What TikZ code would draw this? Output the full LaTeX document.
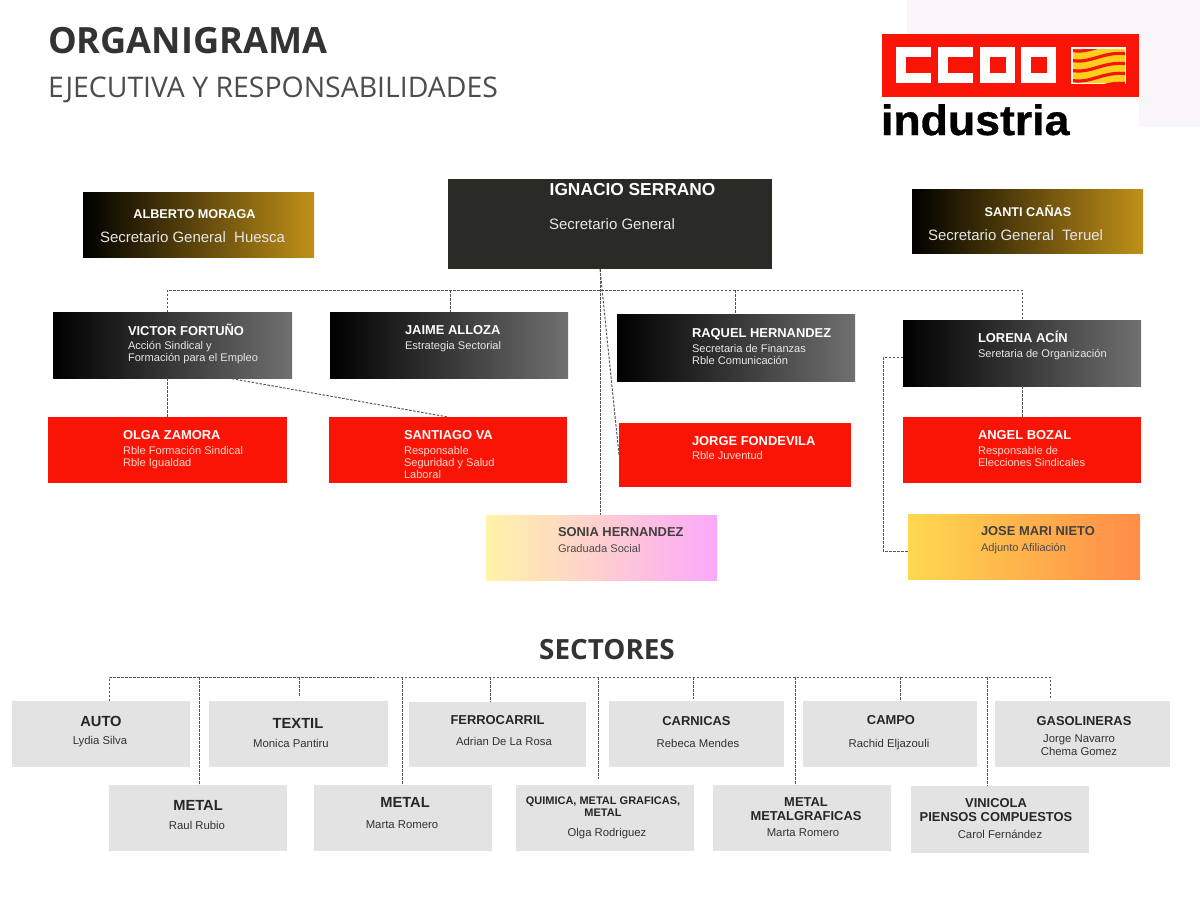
\documentclass[tikz,border=0pt]{standalone}
\usepackage{fontspec}
\setmainfont{Liberation Sans}
\newfontfamily\titlefont{Open Sans}
\newfontfamily\logofont[BoldFeatures={FakeStretch=1.05,FakeBold=0.8}]{Liberation Sans}
\definecolor{ccoored}{HTML}{FA1405}
\definecolor{darkbox}{HTML}{2B2B26}
\definecolor{goldend}{HTML}{C09018}
\definecolor{greyend}{HTML}{707070}
\definecolor{sectorbox}{HTML}{E3E3E3}
\definecolor{linegrey}{HTML}{555555}
\definecolor{softwhite}{HTML}{E6E6E6}
\definecolor{softred}{HTML}{FFD5CC}
\definecolor{paleback}{HTML}{FAF6F9}
\definecolor{flagyellow}{HTML}{FFCF1E}
\definecolor{soniastart}{HTML}{FFF3A8}
\definecolor{soniaend}{HTML}{FCA8FA}
\definecolor{josestart}{HTML}{FFD84F}
\definecolor{joseend}{HTML}{FF8C48}
\tikzset{
    box/.style 2 args={minimum width=#1*0.6pt, minimum height=#2*0.6pt, inner sep=0pt, outer sep=0pt},
    goldbox/.style={left color=black, right color=goldend},
    blackbox/.style={left color=black, right color=greyend},
    redbox/.style={fill=ccoored},
    greybox/.style={fill=sectorbox},
    link/.style={linegrey, line width=0.6pt, dash pattern=on 1.5pt off 0.9pt},
    txt/.style={inner sep=0pt, outer sep=0pt},
    bignm/.style={txt, anchor=base, white, font=\bfseries\fontsize{7.6}{9}\selectfont},
    bigsub/.style={txt, anchor=base west, softwhite, font=\fontsize{9}{10}\selectfont},
    nm/.style={txt, anchor=base west, white, font=\bfseries\fontsize{7.75}{9}\selectfont},
    sub/.style={txt, anchor=north west, align=left, softwhite, font=\fontsize{6.65}{7.3}\selectfont},
    secnm/.style={txt, anchor=base, align=center, black!85, font=\bfseries\fontsize{7.75}{8.4}\selectfont},
    secsub/.style={txt, anchor=base, align=center, black!80, font=\fontsize{6.8}{7.8}\selectfont}
}

\begin{document}
\begin{tikzpicture}[x=0.6pt, y=-0.6pt]
    \useasboundingbox (0,0) rectangle (1200,900);

    % header
    \fill[paleback] (907,0) rectangle (1200,127);
    \fill[white] (882,97) rectangle (1139,137);
    \node[txt, anchor=base west, black!80, font=\titlefont\bfseries\fontsize{21.7}{24}\selectfont] (title) at (48,53) {ORGANIGRAMA};
    \node[txt, anchor=base west, black!70, font=\titlefont\fontsize{17.05}{20}\selectfont] (subtitle) at (48,97) {EJECUTIVA Y RESPONSABILIDADES};

    % logo
    \fill[ccoored] (882,34) rectangle (1139,97);
    \foreach \x in {896,938} {
        \fill[white] (\x,47) rectangle ++(35,36);
        \fill[ccoored] (\x+10,57) rectangle ++(25,16);
    }
    \foreach \x in {980,1021} {
        \fill[white] (\x,47) rectangle ++(35,36);
        \fill[ccoored] (\x+10,57) rectangle ++(16,16);
    }
    \fill[white] (1071,47) rectangle (1126,84);
    \begin{scope}
        \clip (1073,49) rectangle (1125,83);
        \fill[flagyellow] (1073,49) rectangle (1125,83);
        \foreach \dy in {50,60,70,80,90}
            \draw[ccoored, line width=1.9pt] (1070,\dy) .. controls (1090,\dy+5) and (1104,\dy-10) .. (1128,\dy-6);
    \end{scope}
    \node[txt, anchor=base west, black, font=\logofont\bfseries\fontsize{25.5}{30}\selectfont] (industria) at (881,135) {industria};

    % executive boxes
    \node[box={231}{65}, goldbox] (alberto) at (198.5,224.5) {};
    \node[box={324}{90}, fill=darkbox] (ignacio) at (610,224) {};
    \node[box={231}{64}, goldbox] (santi) at (1027.5,221) {};
    \node[box={239}{66}, blackbox] (victor) at (172.5,345) {};
    \node[box={238}{66}, blackbox] (jaime) at (449,345) {};
    \node[box={238}{67}, blackbox] (raquel) at (736,347.5) {};
    \node[box={238}{66}, blackbox] (lorena) at (1022,353) {};
    \node[box={239}{66}, redbox] (olga) at (167.5,450) {};
    \node[box={238}{66}, redbox] (santiago) at (448,450) {};
    \node[box={232}{64}, redbox] (jorge) at (735,455) {};
    \node[box={238}{66}, redbox] (angel) at (1022,450) {};
    \node[box={231}{65}, left color=soniastart, right color=soniaend] (sonia) at (601.5,547.5) {};
    \node[box={232}{65}, left color=josestart, right color=joseend] (jose) at (1024,546.5) {};

    % executive texts
    \node[bignm] (albertonm) at (194.5,218) {ALBERTO MORAGA};
    \node[bigsub] (albertosub) at (100,242) {Secretario General\ \ Huesca};
    \node[bignm, font=\bfseries\fontsize{10.4}{12}\selectfont] (ignacionm) at (632.5,195) {IGNACIO SERRANO};
    \node[bigsub] (ignaciosub) at (549,229) {Secretario General};
    \node[bignm] (santinm) at (1028,216) {SANTI CAÑAS};
    \node[bigsub] (santisub) at (928,240) {Secretario General\ \ Teruel};

    \node[nm] (victornm) at (128,335) {VICTOR FORTUÑO};
    \node[sub] (victorsub) at (128,341.5) {Acción Sindical y\\Formación para el Empleo};
    \node[nm] (jaimenm) at (405,334) {JAIME ALLOZA};
    \node[sub] (jaimesub) at (405,341.5) {Estrategia Sectorial};
    \node[nm] (raquelnm) at (692,337) {RAQUEL HERNANDEZ};
    \node[sub] (raquelsub) at (692,344) {Secretaria de Finanzas\\Rble Comunicación};
    \node[nm] (lorenanm) at (978,342) {LORENA ACÍN};
    \node[sub] (lorenasub) at (978,349) {Seretaria de Organización};

    \node[nm] (olganm) at (123,439) {OLGA ZAMORA};
    \node[sub, softred] (olgasub) at (123,446) {Rble Formación Sindical\\Rble Igualdad};
    \node[nm] (santiagonm) at (404,439) {SANTIAGO VA};
    \node[sub, softred] (santiagosub) at (404,446) {Responsable\\Seguridad y Salud\\Laboral};
    \node[nm] (jorgenm) at (692,445) {JORGE FONDEVILA};
    \node[sub, softred] (jorgesub) at (692,451.5) {Rble Juventud};
    \node[nm] (angelnm) at (978,439) {ANGEL BOZAL};
    \node[sub, softred] (angelsub) at (978,446) {Responsable de\\Elecciones Sindicales};
    \node[nm, black!75] (sonianm) at (558,536) {SONIA HERNANDEZ};
    \node[sub, black!70] (soniasub) at (558,544) {Graduada Social};
    \node[nm, black!75] (josenm) at (981,535) {JOSE MARI NIETO};
    \node[sub, black!70] (josesub) at (981,543) {Adjunto Afiliación};

    % executive links
    \coordinate (busv) at (167,290);
    \coordinate (busj) at (450,290);
    \coordinate (busi) at (600,290);
    \coordinate (busr) at (735,290);
    \coordinate (busl) at (1022,290);
    \draw[link] (victor.north -| busv) -- (busv) -- (busl) -- (lorena.north -| busl);
    \draw[link] (busj) -- (jaime.north -| busj);
    \draw[link] (busr) -- (raquel.north -| busr);
    \draw[link] (ignacio.south -| busi) -- (sonia.north -| busi);
    \draw[link] (ignacio.south -| busi) -- (jorge.west);
    \coordinate (victorout) at (228,378);
    \draw[link] (victorout) -- (santiago.north);
    \draw[link] (victor.south -| olga.north) -- (olga.north);
    \draw[link] (lorena.south) -- (angel.north -| lorena.south);
    \coordinate (elbow) at (883,357);
    \coordinate (josein) at (908,551);
    \draw[link] (lorena.west |- elbow) -- (elbow) -- (elbow |- josein) -- (josein);

    % sectors
    \node[txt, anchor=base, black!80, font=\titlefont\bfseries\fontsize{16.7}{20}\selectfont] (sectores) at (607,659) {SECTORES};

    \node[box={178}{66}, greybox] (auto) at (101,734) {};
    \node[box={179}{66}, greybox] (textil) at (298.5,734) {};
    \node[box={177}{65}, greybox] (ferrocarril) at (497.5,734.5) {};
    \node[box={175}{66}, greybox] (carnicas) at (696.5,734) {};
    \node[box={174}{66}, greybox] (campo) at (890,734) {};
    \node[box={175}{66}, greybox] (gasolineras) at (1082.5,734) {};
    \node[box={178}{66}, greybox] (metala) at (198,818) {};
    \node[box={178}{66}, greybox] (metalb) at (403,818) {};
    \node[box={178}{66}, greybox] (quimica) at (605,818) {};
    \node[box={178}{66}, greybox] (metalc) at (802,818) {};
    \node[box={178}{67}, greybox] (vinicola) at (1000,819.5) {};

    \node[secnm, font=\bfseries\fontsize{8.8}{10}\selectfont] (autonm) at (101,726) {AUTO};
    \node[secsub] (autosub) at (100,744) {Lydia Silva};
    \node[secnm, font=\bfseries\fontsize{8.8}{10}\selectfont] (textilnm) at (298,728) {TEXTIL};
    \node[secsub] (textilsub) at (291,747) {Monica Pantiru};
    \node[secnm] (ferrocarrilnm) at (497.5,724) {FERROCARRIL};
    \node[secsub] (ferrocarrilsub) at (504,745) {Adrian De La Rosa};
    \node[secnm] (carnicasnm) at (696.5,725) {CARNICAS};
    \node[secsub] (carnicassub) at (698,747) {Rebeca Mendes};
    \node[secnm] (camponm) at (891,724) {CAMPO};
    \node[secsub] (camposub) at (889,747) {Rachid Eljazouli};
    \node[secnm] (gasolinerasnm) at (1084,725) {GASOLINERAS};
    \node[secsub, anchor=north] (gasolinerassub) at (1079,735) {Jorge Navarro\\Chema Gomez};
    \node[secnm, font=\bfseries\fontsize{8.8}{10}\selectfont] (metalanm) at (198,810) {METAL};
    \node[secsub] (metalasub) at (197,829) {Raul Rubio};
    \node[secnm, font=\bfseries\fontsize{8.8}{10}\selectfont] (metalbnm) at (405,807) {METAL};
    \node[secsub] (metalbsub) at (402,828) {Marta Romero};
    \node[secnm, anchor=north, font=\bfseries\fontsize{6.6}{7.2}\selectfont] (quimicanm) at (603,797) {QUIMICA, METAL GRAFICAS,\\METAL};
    \node[secsub] (quimicasub) at (607,836) {Olga Rodriguez};
    \node[secnm, anchor=north] (metalcnm) at (806,798) {METAL\\METALGRAFICAS};
    \node[secsub] (metalcsub) at (803,836) {Marta Romero};
    \node[secnm, anchor=north] (vinicolanm) at (996,798) {VINICOLA\\PIENSOS COMPUESTOS};
    \node[secsub] (vinicolasub) at (1000,838) {Carol Fernández};

    % sector links
    \coordinate (secleft) at (109,677);
    \coordinate (secright) at (1050,677);
    \draw[link] (auto.north -| secleft) -- (secleft) -- (secright) -- ([yshift=1.2pt]gasolineras.north -| secright);
    \foreach \target/\x/\gap in {metala/199/0, textil/299/2.4, metalb/402/0, ferrocarril/490/0, quimica/598/3.6, carnicas/693/1.2, metalc/795/0, campo/900/0, vinicola/987/0} {
        \coordinate (drop) at (\x,677);
        \draw[link, shorten >=\gap pt] (drop) -- (drop |- \target.north);
    }
\end{tikzpicture}
\end{document}
